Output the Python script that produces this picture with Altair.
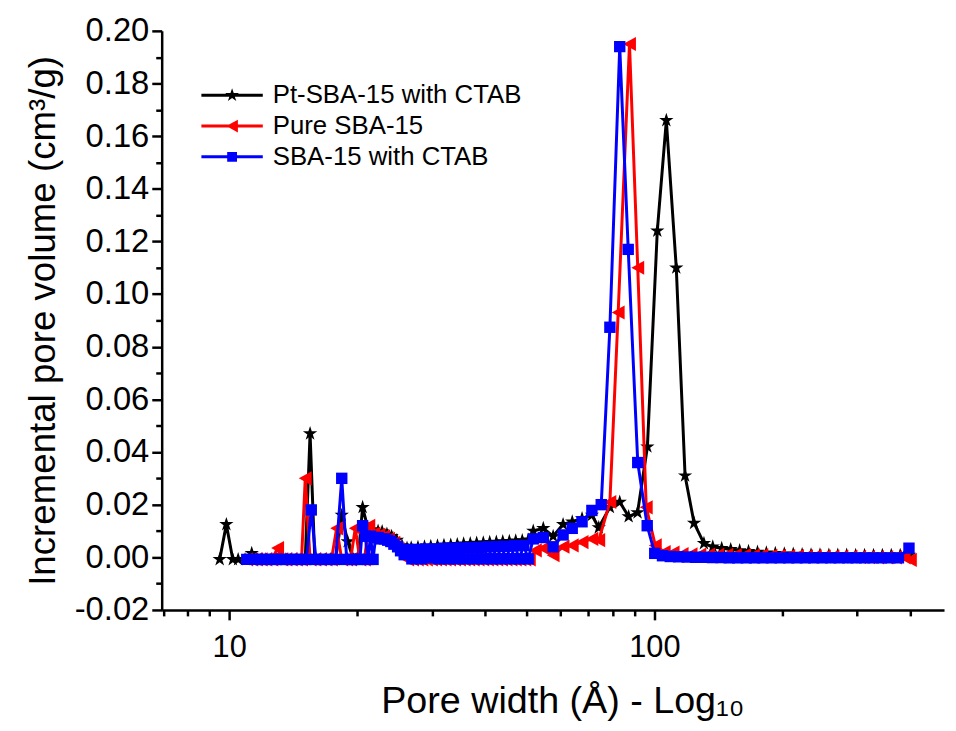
import altair as alt
import pandas as pd

FONT = "Liberation Sans"

SERIES = ["Pt-SBA-15 with CTAB", "Pure SBA-15", "SBA-15 with CTAB"]
COLORS = ["#000000", "#ff0000", "#0000ff"]

# ---- Pt-SBA-15 with CTAB (black stars) ----
pt_x = [9.5, 9.85, 10.2, 10.5, 10.9,
        11.3, 11.6, 11.9, 12.2, 12.6,
        12.9, 13.3, 13.6, 14.0, 14.4,
        14.8, 15.1, 15.5, 15.9, 16.4,
        16.9, 17.3, 17.8, 18.4, 19.0,
        19.6, 20.1, 20.6, 21.2, 21.8,
        22.4, 22.9, 23.5, 24.1, 24.8,
        25.5, 26.2, 26.8, 27.8, 28.8,
        29.8, 30.9, 32.0, 33.2, 34.4,
        35.6, 36.9, 38.2, 39.6, 41.0,
        42.5, 44.0, 45.6, 47.2, 48.9,
        50.5, 51.9, 54.8, 57.8, 61.0,
        64.1, 67.6, 71.3, 74.0, 78.6,
        82.9, 87.0, 91.3, 96.3, 101.6,
        106.7, 112.6, 118.1, 124.0, 130.8,
        137.2, 144.0, 151.2, 158.7, 166.5,
        174.8, 183.4, 192.5, 202.1, 212.1,
        222.6, 233.6, 245.2, 257.3, 270.0,
        283.3, 297.4, 312.1, 327.6, 343.7,
        360.7, 378.6, 397.3]
pt_y = [-0.0008, 0.0125, -0.0008, -0.0008, -0.0008,
        0.0015, -0.0008, -0.0008, -0.0008, -0.0008,
        -0.0008, -0.0008, -0.0008, -0.0008, -0.0008,
        -0.0008, -0.0008, 0.047, -0.0008, -0.0008,
        -0.0008, -0.0008, -0.0008, 0.016, 0.006,
        -0.0008, -0.0008, 0.019, 0.011, 0.0105,
        0.010, 0.0098, 0.0088, 0.008, 0.0065,
        0.0045, 0.0035, 0.0036, 0.0038, 0.0040,
        0.0042, 0.0044, 0.0046, 0.0047, 0.0049,
        0.0051, 0.0052, 0.0054, 0.0055, 0.0057,
        0.0058, 0.0060, 0.0061, 0.0063, 0.0064,
        0.0066, 0.0100, 0.0110, 0.0080, 0.0125,
        0.0135, 0.0147, 0.0160, 0.0113, 0.0190,
        0.0210, 0.0155, 0.0170, 0.0420, 0.1240,
        0.1660, 0.1100, 0.0310, 0.0130, 0.0053,
        0.0040, 0.0034, 0.0030, 0.0026, 0.0023,
        0.0020, 0.0017, 0.0015, 0.0013, 0.0012,
        0.0011, 0.0010, 0.0010, 0.0009, 0.0009,
        0.0009, 0.0008, 0.0008, 0.0008, 0.0008,
        0.0008, 0.0008, 0.0008]

# ---- Pure SBA-15 (red left triangles) ----
pure_x = [11.0, 11.3, 11.6, 11.9, 12.2, 12.6,
          13.0, 13.3, 13.6, 14.0, 14.4, 14.8,
          15.1, 15.5, 15.9, 16.4, 16.9, 17.4,
          17.9, 18.4, 18.9, 19.3, 19.8, 20.3,
          20.8, 21.3, 21.9, 22.5, 23.1, 23.7,
          24.4, 25.0, 25.7,
          26.3, 27.0, 27.7, 28.4, 29.1, 29.9, 30.6, 31.4, 32.2,
          33.0, 33.9, 34.8, 35.7, 36.6, 37.5, 38.5, 39.5, 40.5,
          41.5, 42.6, 43.7, 44.8, 46.0, 47.1, 48.3, 49.6, 50.8,
          52.5, 54.8, 57.8, 61.0, 64.1, 67.6, 71.3, 74.0,
          78.6, 82.2, 87.4, 91.4, 95.7, 100.5, 105.5, 110.7,
          116.2, 122.0, 128.0, 134.2, 141.0, 148.0, 155.0, 163.0, 171.0,
          179.0, 188.0, 197.0, 207.0, 217.0, 228.0, 239.0, 251.0, 263.0,
          276.0, 290.0, 304.0, 319.0, 335.0, 352.0, 369.0, 387.0, 400.0]
pure_y = [-0.0008, -0.0008, -0.0008, -0.0008, -0.0008, -0.0008,
          0.0035, -0.0008, -0.0008, -0.0008, -0.0008, -0.0008,
          0.030, -0.0008, -0.0008, -0.0008, -0.0008, -0.0008,
          0.011, -0.0008, -0.0008, -0.0008, 0.011, -0.0008,
          -0.0008, 0.012, 0.009, 0.0085, 0.008, 0.007,
          0.0055, 0.003, 0.001,
          -0.0008, -0.0008, -0.0008, -0.0008, -0.0008, -0.0008, -0.0008, -0.0008, -0.0008,
          -0.0008, -0.0008, -0.0008, -0.0008, -0.0008, -0.0008, -0.0008, -0.0008, -0.0008,
          -0.0008, -0.0008, -0.0008, -0.0008, -0.0008, -0.0008, -0.0008, -0.0008, -0.0008,
          0.0026, 0.0034, 0.0008, 0.0040, 0.0045, 0.0058, 0.0070, 0.0065,
          0.0210, 0.0930, 0.1950, 0.1100, 0.0190, 0.0045, 0.0020, 0.0018,
          0.0012, 0.0011, 0.0010, 0.0010, 0.0009, 0.0009, 0.0008, 0.0008, 0.0007,
          0.0007, 0.0006, 0.0006, 0.0005, 0.0005, 0.0004, 0.0004, 0.0003, 0.0003,
          0.0002, 0.0002, 0.0001, 0.0001, 0.0, 0.0, 0.0, 0.0, -0.0010]

# ---- SBA-15 with CTAB (blue squares) ----
ctab_x = [11.0, 11.3, 11.6, 11.9, 12.2, 12.6, 12.9, 13.3, 13.6, 14.0,
          14.4, 14.8, 15.2, 15.6, 16.0, 16.4, 16.9, 17.3, 17.8, 18.4,
          18.9, 19.4, 19.9, 20.3, 20.6, 20.9, 21.2, 21.5, 21.8, 22.1,
          22.4, 22.8, 23.2, 23.6, 24.0, 24.4, 24.9, 25.3, 25.8,
          26.3, 26.9, 27.6, 28.3, 29.0, 29.7, 30.4, 31.1, 31.9, 32.7,
          33.5, 34.3, 35.1, 36.0, 36.9, 37.8, 38.7, 39.7, 40.6, 41.6,
          42.6, 43.7, 44.8, 45.9, 47.0, 48.1, 49.3, 50.5,
          51.9, 54.8, 57.8, 61.0, 64.1, 67.6, 71.3, 75.0,
          78.6, 82.9, 86.8, 91.4, 96.2, 100.2,
          104.5, 109.0, 114.0, 119.5, 125.0, 131.0, 137.0, 143.5, 150.0, 157.0,
          164.5, 172.0, 180.0, 188.5, 197.5, 207.0, 216.5, 226.5, 237.0, 248.0,
          260.0, 272.0, 285.0, 298.0, 312.0, 327.0, 342.0, 358.0, 375.0, 397.0]
ctab_y = [-0.0008, -0.0008, -0.0008, -0.0008, -0.0008, -0.0008, -0.0008, -0.0008, -0.0008, -0.0008,
          -0.0008, -0.0008, -0.0008, 0.018, -0.0008, -0.0008, -0.0008, -0.0008, -0.0008, 0.030,
          -0.0008, -0.0008, -0.0008, -0.0008, 0.012, 0.008, -0.0008, 0.008, -0.0008, 0.0075,
          0.0075, 0.007, 0.007, 0.0065, 0.006, 0.005, 0.004, 0.0025, 0.001,
          0.0030, -0.0006, 0.0030, -0.0006, 0.0032, -0.0002, 0.0032, -0.0006, 0.0034, -0.0006,
          0.0035, -0.0006, 0.0036, -0.0006, 0.0037, -0.0006, 0.0038, -0.0006, 0.0040, -0.0006,
          0.0041, -0.0006, 0.0042, -0.0006, 0.0044, -0.0006, 0.0045, -0.0006,
          0.0070, 0.0075, 0.0040, 0.0085, 0.0110, 0.0135, 0.0178, 0.0200,
          0.0874, 0.1940, 0.1170, 0.0360, 0.0120, 0.0015,
          0.0006, 0.0003, 0.0002, 0.0001, 0.0, 0.0, -0.0001, -0.0001, -0.0002, -0.0002,
          -0.0002, -0.0002, -0.0002, -0.0002, -0.0002, -0.0002, -0.0002, -0.0002, -0.0002, -0.0002,
          -0.0002, -0.0002, -0.0002, -0.0002, -0.0002, -0.0002, -0.0002, -0.0002, -0.0002, 0.0035]

x_tick_values = [7, 8, 9, 10, 20, 30, 40, 50, 60, 70, 80, 90, 100, 200, 300, 400]
y_tick_values = [-0.02, -0.01, 0.0, 0.01, 0.02, 0.03, 0.04, 0.05, 0.06, 0.07, 0.08,
                 0.09, 0.10, 0.11, 0.12, 0.13, 0.14, 0.15, 0.16, 0.17, 0.18, 0.19, 0.20]

# marker shapes (unit box paths)
STAR = ("M0,-1L0.2245,-0.309L0.951,-0.309L0.363,0.118L0.588,0.809L0,0.382"
        "L-0.588,0.809L-0.363,0.118L-0.951,-0.309L-0.2245,-0.309Z")
TRI_LEFT = "M-1,0L1,-1.1L1,1.1Z"
SQUARE = "M-1,-1L1,-1L1,1L-1,1Z"

LEG_LINE = "M-3.44,-0.167L3.44,-0.167L3.44,0.167L-3.44,0.167Z"
LEG_STAR = LEG_LINE + ("M0,-0.8L0.18,-0.247L0.761,-0.247L0.29,0.094L0.47,0.647L0,0.306"
                       "L-0.47,0.647L-0.29,0.094L-0.761,-0.247L-0.18,-0.247Z")
LEG_TRI = LEG_LINE + "M-0.65,0L0.65,-0.72L0.65,0.72Z"
LEG_SQ = LEG_LINE + "M-0.55,-0.55L0.55,-0.55L0.55,0.55L-0.55,0.55Z"


def frame(name, xs, ys):
    return pd.DataFrame({"series": name, "width": xs, "volume": ys})


df_pt = frame(SERIES[0], pt_x, pt_y)
df_pure = frame(SERIES[1], pure_x, pure_y)
df_ctab = frame(SERIES[2], ctab_x, ctab_y)

MAJOR_X = "datum.value == 10 || datum.value == 100"
MAJOR_Y = "abs(round(datum.value * 100)) % 2 == 0"

x_enc = alt.X(
    "width:Q",
    scale=alt.Scale(type="log", domain=[6.94, 480], nice=False),
    axis=alt.Axis(
        values=x_tick_values,
        labelExpr=f"({MAJOR_X}) ? format(datum.value, 'd') : ''",
        tickSize={"condition": {"test": MAJOR_X, "value": 10}, "value": 6},
        tickWidth=2.5, tickColor="black",
        domainColor="black", domainWidth=2.5,
        labelFont=FONT, labelFontSize=31, labelColor="black", labelPadding=13,
        labelOverlap=False, labelFlush=False,
        title="Pore width (Å) - Log₁₀",
        titleFont=FONT, titleFontSize=38, titleFontWeight="normal", titleColor="black",
        titlePadding=20, titleX=404, grid=False,
    ),
)
y_enc = alt.Y(
    "volume:Q",
    scale=alt.Scale(domain=[-0.02, 0.20], nice=False, zero=False),
    axis=alt.Axis(
        values=y_tick_values,
        labelExpr=f"({MAJOR_Y}) ? replace(format(datum.value, '.2f'), '\u2212', '-') : ''",
        tickSize={"condition": {"test": MAJOR_Y, "value": 10}, "value": 6},
        tickWidth=2.5, tickColor="black",
        domainColor="black", domainWidth=2.5,
        labelFont=FONT, labelFontSize=33, labelColor="black", labelPadding=3,
        labelOverlap=False, labelFlush=False,
        title="Incremental pore volume (cm³/g)",
        titleFont=FONT, titleFontSize=37, titleFontWeight="normal", titleColor="black",
        titlePadding=12, grid=False,
    ),
)


def series_layers(df, color, shape, size):
    line = alt.Chart(df).mark_line(color=color, strokeWidth=3, clip=True).encode(x=x_enc, y=y_enc)
    pts = alt.Chart(df).mark_point(
        shape=shape, filled=True, color=color, size=size, opacity=1, clip=True
    ).encode(x=x_enc, y=y_enc)
    return [line, pts]


LEGEND = alt.Legend(
    orient="none", legendX=58, legendY=52, title=None,
    labelFont=FONT, labelFontSize=26, labelColor="black", labelLimit=0,
    symbolSize=324, symbolStrokeWidth=0, symbolOpacity=1,
    labelOffset=28, rowPadding=5, padding=0,
)

legend_df = pd.DataFrame({"series": SERIES, "width": [1, 1, 1], "volume": [0.1, 0.1, 0.1]})
legend_layer = alt.Chart(legend_df).mark_point(filled=True, opacity=1, size=324, clip=True).encode(
    x=x_enc,
    y=y_enc,
    color=alt.Color("series:N", scale=alt.Scale(domain=SERIES, range=COLORS), legend=LEGEND),
    shape=alt.Shape("series:N", scale=alt.Scale(domain=SERIES, range=[LEG_STAR, LEG_TRI, LEG_SQ]),
                    legend=LEGEND),
)

layers = (
    series_layers(df_pt, COLORS[0], STAR, 230)
    + series_layers(df_pure, COLORS[1], TRI_LEFT, 169)
    + series_layers(df_ctab, COLORS[2], SQUARE, 132)
    + [legend_layer]
)

chart = (
    alt.layer(*layers)
    .properties(
        width=789, height=584,
        padding={"left": 155, "top": 20, "right": 4, "bottom": 117},
        autosize=alt.AutoSizeParams(type="none"),
        background="white",
    )
    .configure_view(stroke=None)
)

chart.save("out.html", embed_options={"renderer": "svg", "actions": False})
